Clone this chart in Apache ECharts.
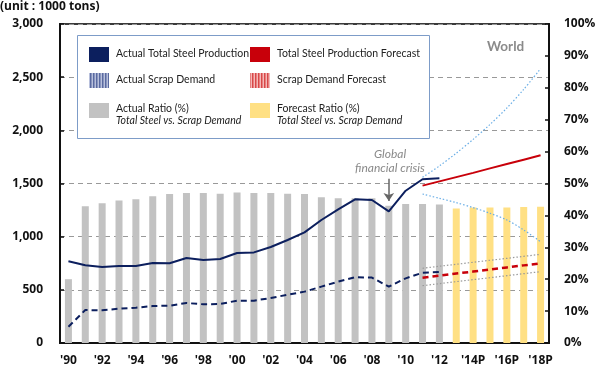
<!DOCTYPE html>
<html>
<head>
<meta charset="utf-8">
<script src="https://cdn.jsdelivr.net/npm/echarts@6/dist/echarts.min.js"></script>
<style>
  html, body { margin: 0; padding: 0; background: #fff; }
  #chart { width: 600px; height: 368px; }
</style>
</head>
<body>
<div id="chart"></div>
<script>
// categories: 1990 .. 2018 (P = forecast)
const years = ["'90", "'91", "'92", "'93", "'94", "'95", "'96", "'97", "'98", "'99",
  "'00", "'01", "'02", "'03", "'04", "'05", "'06", "'07", "'08", "'09",
  "'10", "'11", "'12", "'13P", "'14P", "'15P", "'16P", "'17P", "'18P"]

// ratio (%) - right axis
const ratioActual = [20.0, 42.9, 43.8, 44.7, 45.1, 46.0, 46.7, 47.0, 47.0, 46.8,
  47.2, 47.0, 47.0, 46.8, 46.7, 45.7, 45.4, 45.4, 45.4, 43.0, 43.6, 43.6, 43.4]
const ratioForecast = [42.2, 42.5, 42.5, 42.5, 42.6, 42.7]

// 1000 tons - left axis (1990-2012)
const steelActual = [768, 731, 715, 724, 724, 752, 750, 800, 781, 790,
  846, 852, 903, 969, 1040, 1157, 1257, 1351, 1345, 1238, 1432, 1540, 1550]
const scrapActual = [153, 310, 307, 323, 332, 348, 351, 376, 364, 367,
  398, 398, 423, 454, 483, 530, 577, 618, 615, 530, 608, 661, 668]

// forecasts (2011-2018)
const steelForecast = [1480, 1520, 1560, 1600, 1642, 1683, 1724, 1765]
const steelHigh = [1558, 1665, 1785, 1915, 2055, 2210, 2385, 2580]
const steelLow = [1401, 1361, 1320, 1273, 1220, 1157, 1063, 953]
const scrapForecast = [614, 633, 653, 672, 691, 711, 730, 749]
const scrapHigh = [703, 722, 740, 759, 778, 796, 815, 834]
const scrapLow = [539, 558, 577, 596, 614, 633, 652, 671]

const leftTicks = { min: 0, max: 3000, step: 500 }
const rightTicks = { min: 0, max: 100, step: 10 }

const pad = (arr, before) => [...new Array(before)].map(() => null).concat(arr)
const fcStart = years.length - steelForecast.length

function stripes(a, b) {
    const c = document.createElement('canvas')
    c.width = 3
    c.height = 4
    const ctx = c.getContext('2d')
    ctx.fillStyle = b
    ctx.fillRect(0, 0, 3, 4)
    ctx.fillStyle = a
    ctx.fillRect(0, 0, 1.5, 4)
    return { image: c, repeat: 'repeat' }
}

const NAVY = '#0c1f5e'
const RED = '#c8000a'
const FONT = 'Lato, sans-serif'

const legendItems = [
    { x: 89, y: 47, fill: NAVY, text: 'Actual Total Steel Production' },
    { x: 89, y: 73, fill: stripes('#5a6aa0', '#b8c0dc'), text: 'Actual Scrap Demand' },
    { x: 89, y: 103, fill: '#c2c2c2', text: 'Actual Ratio (%)', sub: 'Total Steel vs. Scrap Demand' },
    { x: 250, y: 47, fill: RED, text: 'Total Steel Production Forecast' },
    { x: 250, y: 73, fill: stripes('#d84848', '#f4b8b8'), text: 'Scrap Demand Forecast' },
    { x: 250, y: 103, fill: '#ffe084', text: 'Forecast Ratio (%)', sub: 'Total Steel vs. Scrap Demand' }
]

const graphics = [
    { type: 'text', left: 0, top: 1, style: { text: '(unit : 1000 tons)', font: 'bold 12px Open Sans, sans-serif', fill: '#111' } },
    { type: 'rect', shape: { x: 77.5, y: 35.5, width: 352, height: 103 }, style: { fill: '#fff', stroke: '#7d9cc8', lineWidth: 1 }, z: 10 },
    { type: 'text', x: 487, y: 40, style: { text: 'World', font: 'bold 13.5px ' + FONT, fill: '#8a8a8a' }, z: 10 },
    { type: 'text', x: 390, y: 147, style: { text: 'Global\nfinancial crisis', font: 'italic 12px ' + FONT, fill: '#8a8a8a', align: 'center', lineHeight: 14 }, z: 10 }
]
legendItems.forEach(it => {
    graphics.push({ type: 'rect', shape: { x: it.x, y: it.y, width: 20, height: 15 }, style: { fill: it.fill }, z: 11 })
    graphics.push({ type: 'text', x: it.x + 27, y: it.y + (it.sub ? 0 : 1.5), style: { text: it.text, font: '10.5px ' + FONT, fill: '#222' }, z: 11 })
    if (it.sub) {
        graphics.push({ type: 'text', x: it.x + 27, y: it.y + 12, style: { text: it.sub, font: 'italic 10.5px ' + FONT, fill: '#222' }, z: 11 })
    }
})

const chart = echarts.init(document.getElementById('chart'))

const lineBase = { type: 'line', showSymbol: false, symbol: 'none', animation: false, z: 3 }

let options = {
    animation: false,
    grid: { left: 60, right: 51, top: 24, bottom: 25, show: true, borderColor: '#3a3a3a', borderWidth: 2 },
    xAxis: {
        type: 'category',
        data: years,
        axisLine: { lineStyle: { color: '#111', width: 2 } },
        axisTick: { show: false },
        axisLabel: { interval: 1, margin: 12, color: '#111', fontWeight: 'bold', fontSize: 12, fontFamily: 'Open Sans' }
    },
    yAxis: [{
        type: 'value',
        min: leftTicks.min, max: leftTicks.max, interval: leftTicks.step,
        axisLine: { show: true, lineStyle: { color: '#111', width: 2 } },
        axisTick: { show: true, inside: true, length: 4, lineStyle: { color: '#111', width: 1.5 } },
        axisLabel: { margin: 17, color: '#111', fontWeight: 'bold', fontSize: 12, fontFamily: 'Open Sans',
            formatter: v => v.toLocaleString('en-US') },
        splitLine: { lineStyle: { color: '#999', type: [5, 4], width: 1 } }
    }, {
        type: 'value',
        min: rightTicks.min, max: rightTicks.max, interval: rightTicks.step,
        axisLine: { show: true, lineStyle: { color: '#111', width: 2 } },
        axisTick: { show: true, inside: true, length: 4, lineStyle: { color: '#111', width: 1.5 } },
        axisLabel: { margin: 15, color: '#111', fontWeight: 'bold', fontSize: 12, fontFamily: 'Open Sans',
            formatter: v => v + '%' },
        splitLine: { show: false }
    }],
    graphic: graphics,
    series: [{
        type: 'bar', yAxisIndex: 1, barWidth: 7, barGap: '-100%',
        data: ratioActual, itemStyle: { color: '#c2c2c2' }, z: 1
    }, {
        type: 'bar', yAxisIndex: 1, barWidth: 7, barGap: '-100%',
        data: pad(ratioForecast, years.length - ratioForecast.length), itemStyle: { color: '#ffe084' }, z: 1
    }, {
        ...lineBase, data: steelActual,
        lineStyle: { color: NAVY, width: 2 },
        markLine: {
            silent: true, symbol: ['none', 'arrow'], symbolSize: [8, 8], animation: false,
            lineStyle: { color: '#666', width: 1.5, type: 'solid' }, label: { show: false },
            data: [[{ coord: ["'09", 1545] }, { coord: ["'09", 1335] }]]
        }
    }, {
        ...lineBase, data: scrapActual,
        lineStyle: { color: NAVY, width: 2, type: [6, 4] }
    }, {
        ...lineBase, data: pad(steelForecast, fcStart),
        lineStyle: { color: RED, width: 2 }
    }, {
        ...lineBase, data: pad(scrapForecast, fcStart),
        lineStyle: { color: RED, width: 2.5, type: [6, 4] }
    }, {
        ...lineBase, data: pad(steelHigh, fcStart), smooth: 0.3,
        lineStyle: { color: '#6aaee6', width: 1.2, type: [1.5, 2] }
    }, {
        ...lineBase, data: pad(steelLow, fcStart), smooth: 0.3,
        lineStyle: { color: '#6aaee6', width: 1.2, type: [1.5, 2] }
    }, {
        ...lineBase, data: pad(scrapHigh, fcStart),
        lineStyle: { color: '#9a9a9a', width: 1.2, type: [1.5, 2] }
    }, {
        ...lineBase, data: pad(scrapLow, fcStart),
        lineStyle: { color: '#9a9a9a', width: 1.2, type: [1.5, 2] }
    }]
}
options && chart.setOption(options)
</script>
</body>
</html>
